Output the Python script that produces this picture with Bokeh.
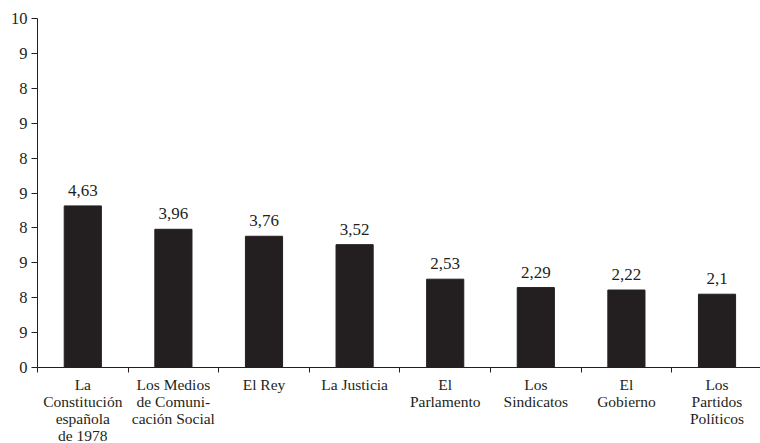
from bokeh.plotting import figure
from bokeh.models import ColumnDataSource, Range1d, FixedTicker, LabelSet
from bokeh.embed import file_html
from bokeh.resources import INLINE

# Institutions and their mean confidence scores
categories = [
    "La\nConstitución\nespañola\nde 1978",
    "Los Medios\nde Comuni-\ncación Social",
    "El Rey",
    "La Justicia",
    "El\nParlamento",
    "Los\nSindicatos",
    "El\nGobierno",
    "Los\nPartidos\nPolíticos",
]
values = [4.63, 3.96, 3.76, 3.52, 2.53, 2.29, 2.22, 2.1]
value_labels = ["4,63", "3,96", "3,76", "3,52", "2,53", "2,29", "2,22", "2,1"]
y_ticks = [0, 1, 2, 3, 4, 5, 6, 7, 8, 9, 10]
y_tick_labels = ["0", "9", "8", "9", "8", "9", "8", "9", "8", "9", "10"]

FONT = "Liberation Serif"
INK = "#231f20"

n = len(categories)
centers = [i + 0.5 for i in range(n)]
bounds = [float(i) for i in range(n + 1)]

src = ColumnDataSource(dict(x=centers, top=values, lab=value_labels))

p = figure(
    frame_width=723, frame_height=349,
    x_range=Range1d(0, 7.98), y_range=Range1d(0, 10),
    output_backend="svg", toolbar_location=None,
    min_border_left=37, min_border_right=0,
    min_border_top=18, min_border_bottom=0,
)
p.outline_line_color = None
p.xgrid.visible = False
p.ygrid.visible = False
p.background_fill_color = "white"
p.border_fill_color = "white"

p.vbar(x="x", top="top", width=0.41, source=src, fill_color=INK, line_color=INK)

# value above each bar
p.add_layout(LabelSet(x="x", y="top", text="lab", source=src,
                      text_align="center", text_baseline="bottom", y_offset=10,
                      text_font=FONT, text_font_size="17px", text_color=INK))

# x axis: names at bar centres, tick marks at category boundaries
xa = p.xaxis[0]
xa.ticker = FixedTicker(ticks=centers, minor_ticks=bounds)
xa.major_label_overrides = {c: lab for c, lab in zip(centers, categories)}
xa.major_tick_line_color = None
xa.major_tick_out = 0
xa.major_tick_in = 0
xa.minor_tick_line_color = INK
xa.minor_tick_out = 5
xa.minor_tick_in = 0
xa.axis_line_color = INK
xa.major_label_standoff = 3
xa.major_label_text_font = FONT
xa.major_label_text_font_size = "15.5px"
xa.major_label_text_color = INK
xa.major_label_text_line_height = 1.0

ya = p.yaxis[0]
ya.ticker = FixedTicker(ticks=y_ticks)
ya.major_label_overrides = {t: s for t, s in zip(y_ticks, y_tick_labels)}
ya.major_tick_line_color = INK
ya.major_tick_out = 6
ya.major_tick_in = 0
ya.minor_tick_line_color = None
ya.axis_line_color = INK
ya.major_label_standoff = 4
ya.major_label_text_font = FONT
ya.major_label_text_font_size = "16.5px"
ya.major_label_text_color = INK

open("out.html", "w").write(file_html(p, INLINE))
